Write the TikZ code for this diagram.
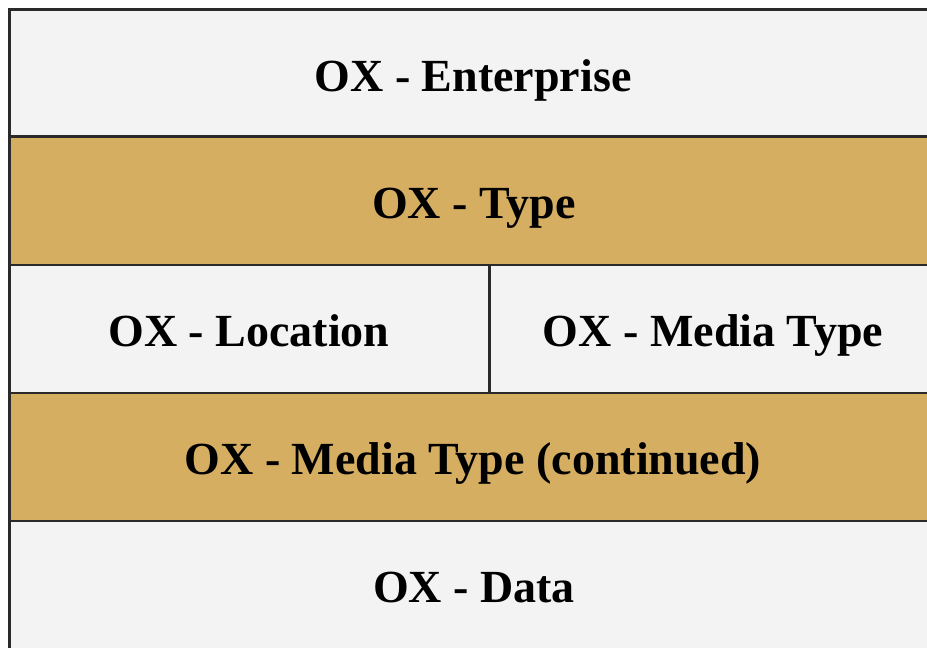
\documentclass[tikz,border=0pt]{standalone}
\usepackage{fontspec}
\setmainfont{Liberation Serif}
\definecolor{lightcell}{HTML}{F3F3F3}
\definecolor{goldcell}{HTML}{D6AE62}
\definecolor{edge}{HTML}{2A2A2A}
\begin{document}
\begin{tikzpicture}[x=1pt,y=-1pt,
  cell/.style={draw=edge,line width=2.2pt},
  lbl/.style={font=\fontsize{46}{52}\selectfont\bfseries,text=black,inner sep=0pt,anchor=base}]
\useasboundingbox (0,0) rectangle (927,648);
\fill[white] (0,0) rectangle (927,648);
\begin{scope}
\clip (0,0) rectangle (927,648);
\filldraw[cell,fill=lightcell] (9.5,9.5) rectangle (945,136.5);
\filldraw[cell,fill=goldcell] (9.5,136.5) rectangle (945,265);
\filldraw[cell,fill=lightcell] (9.5,265) rectangle (489.5,393);
\filldraw[cell,fill=lightcell] (489.5,265) rectangle (945,393);
\filldraw[cell,fill=goldcell] (9.5,393) rectangle (945,521);
\filldraw[cell,fill=lightcell] (9.5,521) rectangle (945,660);
\end{scope}
\node[lbl] (t1) at (473,91) {OX - Enterprise};
\node[lbl] (t2) at (474,218) {OX - Type};
\node[lbl] (t3) at (249,346) {OX - Location};
\node[lbl] (t4) at (713,346) {OX - Media Type};
\node[lbl] (t5) at (473,474) {OX - Media Type (continued)};
\node[lbl] (t6) at (474,602) {OX - Data};
\end{tikzpicture}
\end{document}
